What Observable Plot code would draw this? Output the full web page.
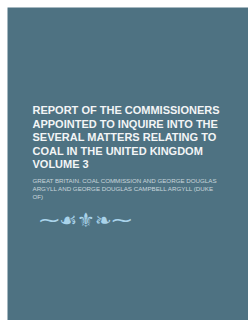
<!DOCTYPE html>
<html>
<head>
<meta charset="utf-8">
<script src="https://cdn.jsdelivr.net/npm/d3@7"></script>
<script src="https://cdn.jsdelivr.net/npm/@observablehq/plot@0.6"></script>
<style>
  html, body { margin: 0; padding: 0; background: #ffffff; }
  #chart svg { display: block; }
</style>
</head>
<body>
<div id="chart"></div>
<script>
const titleLines = [
  "REPORT OF THE COMMISSIONERS",
  "APPOINTED TO INQUIRE INTO THE",
  "SEVERAL MATTERS RELATING TO",
  "COAL IN THE UNITED KINGDOM",
  "VOLUME 3"
];
const authorLines = [
  "GREAT BRITAIN. COAL COMMISSION AND GEORGE DOUGLAS",
  "ARGYLL AND GEORGE DOUGLAS CAMPBELL ARGYLL (DUKE",
  "OF)"
];
const ornament = ["⁓☙⚜❧⁓"];

const chart = Plot.plot({
  width: 248,
  height: 320,
  margin: 0,
  style: { background: "#ffffff" },
  marks: [
    Plot.frame({ fill: "#4e7282", stroke: "none", insetLeft: 7, insetTop: 7 }),
    Plot.text([titleLines.join("\n")], {
      text: d => d,
      frameAnchor: "top-left",
      textAnchor: "start",
      lineAnchor: "top",
      dx: 32,
      dy: 104,
      fontSize: 11,
      lineHeight: 1.227,
      fontWeight: "bold",
      fontFamily: "Liberation Sans, Arial, sans-serif",
      fill: "#f3f5f6"
    }),
    Plot.text([authorLines.join("\n")], {
      text: d => d,
      frameAnchor: "top-left",
      textAnchor: "start",
      lineAnchor: "top",
      dx: 32,
      dy: 176.6,
      fontSize: 6.2,
      lineHeight: 1.29,
      fontFamily: "Liberation Sans, Arial, sans-serif",
      fill: "#c9d6dc"
    }),
    Plot.text(ornament, {
      text: d => d,
      frameAnchor: "top-left",
      textAnchor: "middle",
      lineAnchor: "middle",
      dx: 85,
      dy: 220,
      fontSize: 20,
      fontFamily: "DejaVu Sans, sans-serif",
      fill: "#a9d3ea"
    })
  ]
});
document.getElementById("chart").append(chart);
</script>
</body>
</html>
